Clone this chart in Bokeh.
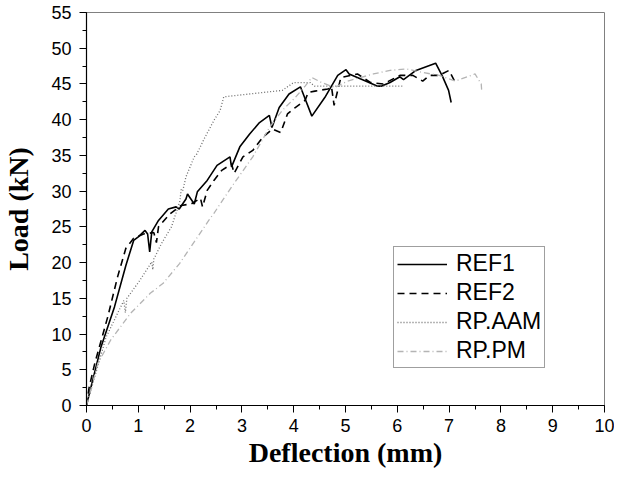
from bokeh.plotting import figure
from bokeh.models import Range1d, SingleIntervalTicker, Legend, LegendItem
from bokeh.embed import file_html
from bokeh.resources import INLINE

# ---- data ----
ref1_x = [0, 0.05, 0.28, 0.54, 0.76, 0.91, 1.0, 1.13, 1.18, 1.22, 1.26, 1.39, 1.58, 1.73, 1.79,
          1.92, 1.95, 2.08, 2.14, 2.33, 2.52, 2.77, 2.80, 2.96, 3.15, 3.34, 3.53, 3.58, 3.72,
          3.91, 4.13, 4.35, 4.60, 4.85, 5.01, 5.07, 5.42, 5.61, 5.70, 5.86, 6.05, 6.12, 6.36,
          6.74, 6.87, 6.99, 7.04]
ref1_y = [0, 1.5, 8.2, 13.8, 19.6, 23.1, 23.6, 24.5, 24.0, 21.5, 24.3, 25.9, 27.5, 27.8, 27.5,
          28.9, 29.6, 28.2, 29.9, 31.5, 33.6, 34.8, 33.4, 36.2, 38.0, 39.6, 40.6, 38.9, 41.7,
          43.6, 44.6, 40.5, 43.1, 46.2, 47.0, 46.4, 45.3, 44.7, 44.7, 45.2, 46.0, 45.6, 46.9,
          47.9, 46.1, 44.1, 42.4]

ref2_x = [0, 0.05, 0.16, 0.41, 0.60, 0.76, 0.91, 1.10, 1.30, 1.35, 1.39, 1.61, 1.83, 2.02, 2.20,
          2.24, 2.33, 2.46, 2.61, 2.80, 2.85, 3.02, 3.21, 3.40, 3.59, 3.75, 3.88, 4.03, 4.22,
          4.28, 4.41, 4.66, 4.73, 4.78, 4.91, 5.23, 5.48, 5.73, 6.05, 6.30, 6.49, 6.62, 6.81,
          7.00, 7.12]
ref2_y = [0, 2.5, 5.9, 12.4, 18.0, 22.0, 23.4, 24.0, 24.2, 22.8, 25.0, 26.8, 28.0, 28.2, 29.0,
          27.8, 30.1, 31.5, 32.9, 33.8, 32.5, 34.8, 35.7, 37.5, 38.7, 38.2, 40.8, 41.7, 42.7,
          43.8, 44.0, 44.3, 44.6, 42.0, 45.9, 46.4, 45.2, 45.0, 46.2, 46.2, 45.4, 46.2, 46.2,
          46.9, 45.2]

aam_x = [0, 0.38, 0.72, 0.75, 0.78, 1.01, 1.26, 1.28, 1.30, 1.45, 1.64, 1.80, 1.83, 1.86, 1.92,
         2.08, 2.13, 2.27, 2.46, 2.58, 2.65, 3.78, 4.00, 4.32, 4.40, 6.12]
aam_y = [0, 9.6, 14.7, 13.0, 15.0, 17.3, 20.1, 19.0, 20.5, 22.7, 25.0, 28.5, 30.3, 30.1, 32.0,
         34.8, 35.2, 37.3, 39.9, 41.3, 43.2, 44.1, 45.2, 45.2, 44.7, 44.7]

pm_x = [0, 0.22, 0.47, 0.85, 1.23, 1.48, 1.80, 2.36, 2.46, 2.84, 3.21, 3.53, 3.78, 4.03, 4.22,
        4.35, 4.54, 4.79, 5.04, 5.54, 5.86, 6.18, 6.49, 6.81, 7.12, 7.35, 7.50, 7.62, 7.63]
pm_y = [0, 5.9, 9.2, 12.9, 15.7, 17.1, 19.9, 25.9, 26.9, 31.0, 34.8, 38.9, 41.3, 43.1, 44.7,
        45.9, 45.2, 44.5, 45.4, 46.4, 46.9, 47.1, 46.6, 46.2, 45.4, 46.0, 46.4, 45.0, 44.0]

series_names = ["REF1", "REF2", "RP.AAM", "RP.PM"]

p = figure(width=614, height=470, output_backend="svg", toolbar_location=None,
           x_range=Range1d(0, 10), y_range=Range1d(0, 55),
           min_border_left=82, min_border_right=10, min_border_top=12, min_border_bottom=64)
p.background_fill_color = "white"
p.border_fill_color = "white"
p.outline_line_color = "#808080"
p.outline_line_width = 1
p.xgrid.visible = False
p.ygrid.visible = False

r1 = p.line(ref1_x, ref1_y, line_color="black", line_width=1.6)
r2 = p.line(ref2_x, ref2_y, line_color="black", line_width=1.6, line_dash="7 5")
r3 = p.line(aam_x, aam_y, line_color="#6e6e6e", line_width=1.3, line_dash="1 2")
r4 = p.line(pm_x, pm_y, line_color="#b4b4b4", line_width=1.3, line_dash="6 3 1 3")

p.xaxis.ticker = SingleIntervalTicker(interval=1, num_minor_ticks=2)
p.yaxis.ticker = SingleIntervalTicker(interval=5, num_minor_ticks=2)

for ax in (p.xaxis[0], p.yaxis[0]):
    ax.axis_line_color = "black"
    ax.axis_line_width = 1.2
    ax.major_tick_in = 0
    ax.major_tick_out = 7
    ax.minor_tick_in = 0
    ax.minor_tick_out = 4
    ax.major_tick_line_color = "black"
    ax.minor_tick_line_color = "black"
    ax.major_label_text_font = "Liberation Sans"
    ax.major_label_text_font_size = "18px"
    ax.major_label_text_color = "black"
    ax.axis_label_text_font = "Liberation Serif"
    ax.axis_label_text_font_style = "bold"
    ax.axis_label_text_font_size = "28px"
    ax.axis_label_text_color = "black"

p.xaxis.axis_label = "Deflection (mm)"
p.yaxis.axis_label = "Load (kN)"
p.xaxis.major_label_standoff = 6
p.yaxis.major_label_standoff = 8
p.xaxis.axis_label_standoff = 2
p.yaxis.axis_label_standoff = 14

legend = Legend(items=[LegendItem(label=series_names[0], renderers=[r1]),
                       LegendItem(label=series_names[1], renderers=[r2]),
                       LegendItem(label=series_names[2], renderers=[r3]),
                       LegendItem(label=series_names[3], renderers=[r4])],
                location=(307, 37))
legend.label_text_font = "Liberation Sans"
legend.label_text_font_size = "23px"
legend.label_text_color = "black"
legend.glyph_width = 50
legend.glyph_height = 26
legend.label_height = 26
legend.label_standoff = 9
legend.spacing = 2
legend.padding = 3
legend.margin = 0
legend.border_line_color = "#404040"
legend.border_line_width = 1
legend.background_fill_color = "white"
legend.background_fill_alpha = 1
p.add_layout(legend, "center")

open("out.html", "w").write(file_html(p, INLINE))
